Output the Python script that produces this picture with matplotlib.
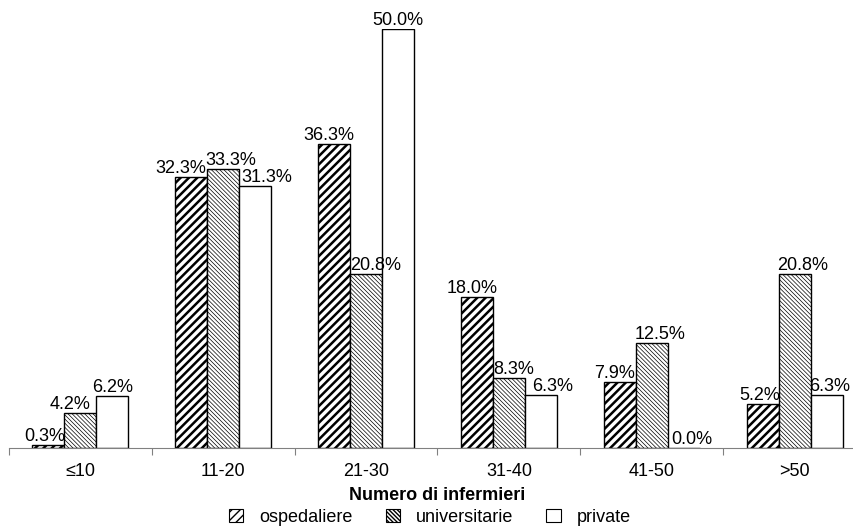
import numpy as np
import matplotlib
matplotlib.use('Agg')
import matplotlib.pyplot as plt

# Data
categories = ['≤10', '11-20', '21-30', '31-40', '41-50', '>50']
ospedaliere = [0.3, 32.3, 36.3, 18.0, 7.9, 5.2]
universitarie = [4.2, 33.3, 20.8, 8.3, 12.5, 20.8]
private = [6.2, 31.3, 50.0, 6.3, 0.0, 6.3]
series_names = ['ospedaliere', 'universitarie', 'private']

# label nudges (pixels) to mimic the original placement
nudge = [[-4, -10, -5, -5, -5, -3],
         [-10, 8, 10, 5, 8, 8],
         [0, 12, 0, 12, 8, 3]]

plt.rcParams['font.family'] = ['Liberation Sans', 'DejaVu Sans']
plt.rcParams['font.size'] = 13

fig = plt.figure(figsize=(8.54, 5.30), dpi=100)
W, H = 854, 530
ax = fig.add_axes([9 / W, 82 / H, 857 / W, 419 / H])

x = np.arange(len(categories))
bw = 0.224
hatches = ['////', '\\\\\\\\\\\\\\\\', '']
hlw = [1.8, 0.5, 1.0]
series = [ospedaliere, universitarie, private]

for i, vals in enumerate(series):
    pos = x + (i - 1) * bw
    bars = ax.bar(pos, vals, bw, color='white', edgecolor='black',
                  linewidth=1.0, hatch=hatches[i], label=series_names[i], zorder=2)
    for b in bars:
        try:
            b.set_hatch_linewidth(hlw[i])
        except AttributeError:
            pass
    for j, v in enumerate(vals):
        ax.annotate(f'{v:.1f}%', (pos[j], v), xytext=(nudge[i][j] * 0.72, 0),
                    textcoords='offset points', ha='center', va='bottom',
                    fontsize=13, annotation_clip=False)

ax.set_xlim(-0.5, len(categories) - 0.5)
ax.set_ylim(0, 50)
for s in ['top', 'right', 'left']:
    ax.spines[s].set_visible(False)
ax.spines['bottom'].set_color('#808080')
ax.spines['bottom'].set_zorder(3)
ax.set_yticks([])
ax.set_xticks(np.arange(len(categories) + 1) - 0.5)
ax.set_xticklabels([])
ax.set_xticks(x, minor=True)
ax.set_xticklabels(categories, minor=True)
ax.tick_params(axis='x', which='major', direction='out', length=5, color='#808080')
ax.tick_params(axis='x', which='minor', length=0, pad=11, labelsize=13)
ax.set_xlabel('Numero di infermieri', fontweight='bold', fontsize=13, labelpad=5)

leg = fig.legend(loc='lower center', bbox_to_anchor=(430 / W, -12 / H), ncol=3,
                 frameon=False, fontsize=13, handlelength=0.8, handleheight=0.8,
                 handletextpad=0.9, columnspacing=1.8)
for p in leg.get_patches():
    p.set_linewidth(0.8)

fig.savefig('out.png', dpi=100)
